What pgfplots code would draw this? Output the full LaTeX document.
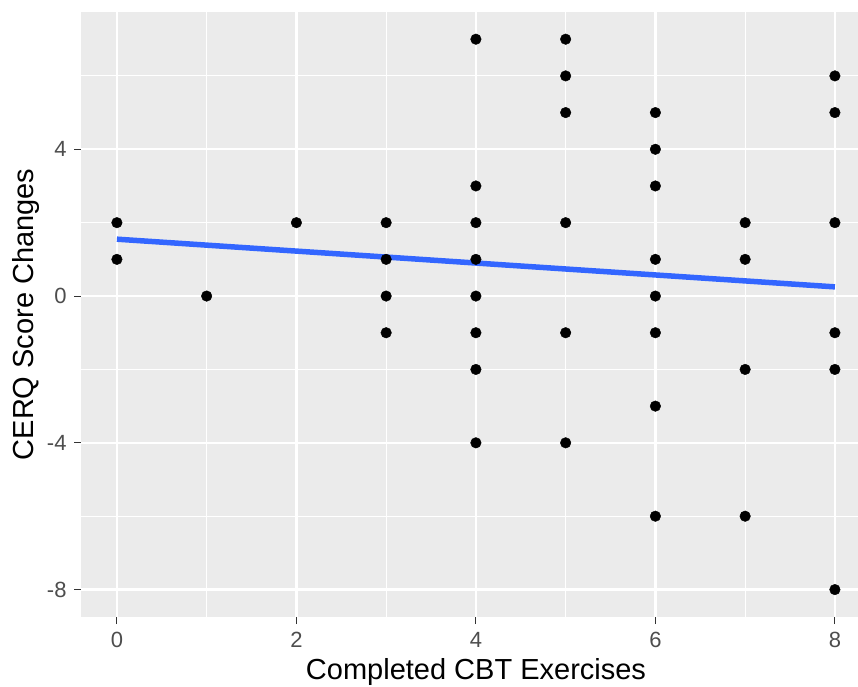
\documentclass[border=0pt]{standalone}
\usepackage{fontspec}
\setmainfont{Liberation Sans}
\usepackage{pgfplots}
\pgfplotsset{compat=1.18}
\definecolor{panelbg}{HTML}{EBEBEB}
\definecolor{ticktext}{HTML}{4D4D4D}
\definecolor{tickcol}{HTML}{333333}
\definecolor{fitblue}{HTML}{3366FF}
\begin{document}
\begin{tikzpicture}
\useasboundingbox (0,0) rectangle (858pt,686pt);
\begin{axis}[
  at={(81pt,68.9pt)}, anchor=south west,
  scale only axis, width=789.8pt, height=605.4pt,
  xmin=-0.4, xmax=8.4, ymin=-8.75, ymax=7.75,
  xtick={0,2,4,6,8}, ytick={-8,-4,0,4},
  minor xtick={1,3,5,7}, minor ytick={-6,-2,2,6},
  grid=both,
  major grid style={white, line width=2.2pt},
  minor grid style={white, line width=1.1pt},
  axis background/.style={fill=panelbg},
  axis line style={draw=none},
  tick align=outside, xtick pos=bottom, ytick pos=left,
  major tick length=7pt, minor tick length=0pt,
  tick style={tickcol, line width=1.1pt},
  /pgf/number format/assume math mode=true,
  xticklabel style={font=\fontsize{22}{24}\selectfont, text=ticktext, inner sep=0pt, anchor=north, yshift=-7.6pt},
  yticklabel style={font=\fontsize{22}{24}\selectfont, text=ticktext, inner sep=0pt, anchor=east, xshift=-7.3pt},
  clip=false,
]
\addplot[only marks, mark=*, mark size=5.3pt, black] coordinates {
  (0,2) (0,1)
  (1,0)
  (2,2)
  (3,2) (3,1) (3,0) (3,-1)
  (4,7) (4,3) (4,2) (4,1) (4,0) (4,-1) (4,-2) (4,-4)
  (5,7) (5,6) (5,5) (5,2) (5,-1) (5,-4)
  (6,5) (6,4) (6,3) (6,1) (6,0) (6,-1) (6,-3) (6,-6)
  (7,2) (7,1) (7,-2) (7,-6)
  (8,6) (8,5) (8,2) (8,-1) (8,-2) (8,-8)
};
\addplot[color=fitblue, line width=5.5pt, no marks] coordinates {(0,1.55) (8,0.25)};
\end{axis}
\node[anchor=base, inner sep=0pt, font=\fontsize{29}{32}\selectfont] at (476pt,6.5pt) {Completed CBT Exercises};
\node[anchor=base, rotate=90, inner sep=0pt, font=\fontsize{29}{32}\selectfont] at (33pt,371.6pt) {CERQ Score Changes};
\end{tikzpicture}
\end{document}
